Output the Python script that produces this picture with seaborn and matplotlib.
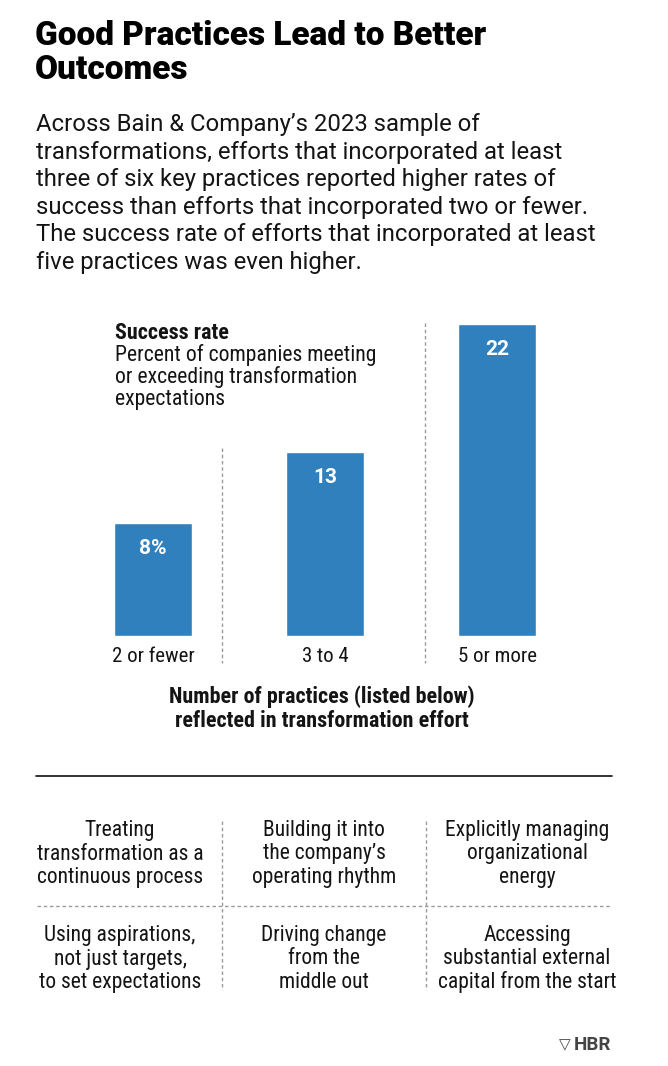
import matplotlib
matplotlib.use("Agg")
import matplotlib.pyplot as plt
import seaborn as sns
import pandas as pd
from matplotlib.lines import Line2D

# ----------------------------------------------------
# Data
# ----------------------------------------------------

categories = ["2 or fewer", "3 to 4", "5 or more"]
success_rate = [8, 13, 22]
value_labels = ["8%", "13", "22"]

practices_top = [
    "Treating\ntransformation as a\ncontinuous process",
    "Building it into\nthe company\u2019s\noperating rhythm",
    "Explicitly managing\norganizational\nenergy",
]
practices_bottom = [
    "Using aspirations,\nnot just targets,\nto set expectations",
    "Driving change\nfrom the\nmiddle out",
    "Accessing\nsubstantial external\ncapital from the start",
]

title = "Good Practices Lead to Better\nOutcomes"
intro = [
    "Across Bain & Company\u2019s 2023 sample of",
    "transformations, efforts that incorporated at least",
    "three of six key practices reported higher rates of",
    "success than efforts that incorporated two or fewer.",
    "The success rate of efforts that incorporated at least",
    "five practices was even higher.",
]

df = pd.DataFrame({"practices": categories, "rate": success_rate})

# ----------------------------------------------------
# Figure setup (pixel helpers)
# ----------------------------------------------------

W, H = 668, 1066
BLUE = "#2f80bd"
INK = "#141414"
DASH = "#9a9a9a"
NARROW = ["Roboto Condensed", "Roboto", "DejaVu Sans"]
BODY = ["Roboto", "DejaVu Sans"]

sns.set_theme(style="white")
plt.rcParams["font.family"] = BODY

fig = plt.figure(figsize=(W / 100, H / 100), dpi=100)
fig.patch.set_facecolor("white")


def fx(x):
    return x / W


def fy(y):
    return 1 - y / H


def vline(x, y0, y1):
    fig.add_artist(Line2D([fx(x), fx(x)], [fy(y0), fy(y1)], color=DASH,
                          lw=1, ls=(0, (2.5, 2)), transform=fig.transFigure))


def hline(x0, x1, y, dashed=True, color=DASH, lw=1):
    fig.add_artist(Line2D([fx(x0), fx(x1)], [fy(y), fy(y)], color=color,
                          lw=lw, ls=(0, (2.5, 2)) if dashed else "-",
                          transform=fig.transFigure))


# ----------------------------------------------------
# Header text
# ----------------------------------------------------

fig.text(fx(35), fy(53), title, ha="left", va="center", fontsize=24,
         fontweight="black", family=BODY, color="black", linespacing=1.08)

for i, line in enumerate(intro):
    fig.text(fx(36), fy(125 + i * 27.4), line, ha="left", va="center",
             fontsize=17.2, color=INK, family=BODY)

# ----------------------------------------------------
# Bar chart
# ----------------------------------------------------

ax_left, ax_right = 67, 583
ax_bottom, ax_top = 636, 324
ax = fig.add_axes([fx(ax_left), fy(ax_bottom), (ax_right - ax_left) / W,
                   (ax_bottom - ax_top) / H])

sns.barplot(data=df, x="practices", y="rate", color=BLUE, saturation=1,
            width=0.45, ax=ax)

ax.set_xlim(-0.5, 2.5)
ax.set_ylim(0, 22)
ax.set_xlabel("")
ax.set_ylabel("")
ax.set_yticks([])
sns.despine(ax=ax, left=True, bottom=True)
ax.tick_params(axis="x", length=0, pad=8)
for lab in ax.get_xticklabels():
    lab.set_family(NARROW)
    lab.set_fontsize(15)
    lab.set_color(INK)

for i, (v, lab) in enumerate(zip(success_rate, value_labels)):
    ax.annotate(lab, (i, v), xytext=(0, -18.5), textcoords="offset points",
                ha="center", va="center", color="white", fontsize=15,
                fontweight="bold", family=BODY)

# dashed separators between groups
vline(222, 448, 663)
vline(425, 323, 663)

fig.text(fx(115), fy(333), "Success rate", ha="left", va="center",
         fontsize=15.8, fontweight="bold", family=NARROW, color=INK)
for i, line in enumerate(["Percent of companies meeting",
                          "or exceeding transformation", "expectations"]):
    fig.text(fx(115), fy(355 + i * 22.3), line, ha="left", va="center",
             fontsize=15.7, family=NARROW, color=INK)

fig.text(fx(322), fy(709), "Number of practices (listed below)\n"
         "reflected in transformation effort", ha="center", va="center",
         fontsize=15.8, fontweight="bold", family=NARROW, color=INK,
         linespacing=1.12)

# ----------------------------------------------------
# Practices grid
# ----------------------------------------------------

hline(36, 612, 776, dashed=False, color="#222222", lw=1.3)

col_x = [120, 324, 527]
for x, t in zip(col_x, practices_top):
    fig.text(fx(x), fy(854), t, ha="center", va="center", fontsize=15.5,
             family=NARROW, color=INK, linespacing=1.13)
for x, t in zip(col_x, practices_bottom):
    fig.text(fx(x), fy(959), t, ha="center", va="center", fontsize=15.5,
             family=NARROW, color=INK, linespacing=1.13)

hline(37, 612, 906)
vline(222, 821, 990)
vline(426, 821, 990)

# ----------------------------------------------------
# Logo
# ----------------------------------------------------

fig.text(fx(611), fy(1045), "HBR", ha="right", va="center", fontsize=13.5,
         fontweight="bold", family=BODY, color="#444444")
fig.text(fx(565), fy(1045), "\u25bd", ha="center", va="center", fontsize=11,
         fontweight="bold", family=["DejaVu Sans"], color="#444444")

fig.savefig("out.png", dpi=100, facecolor="white")
